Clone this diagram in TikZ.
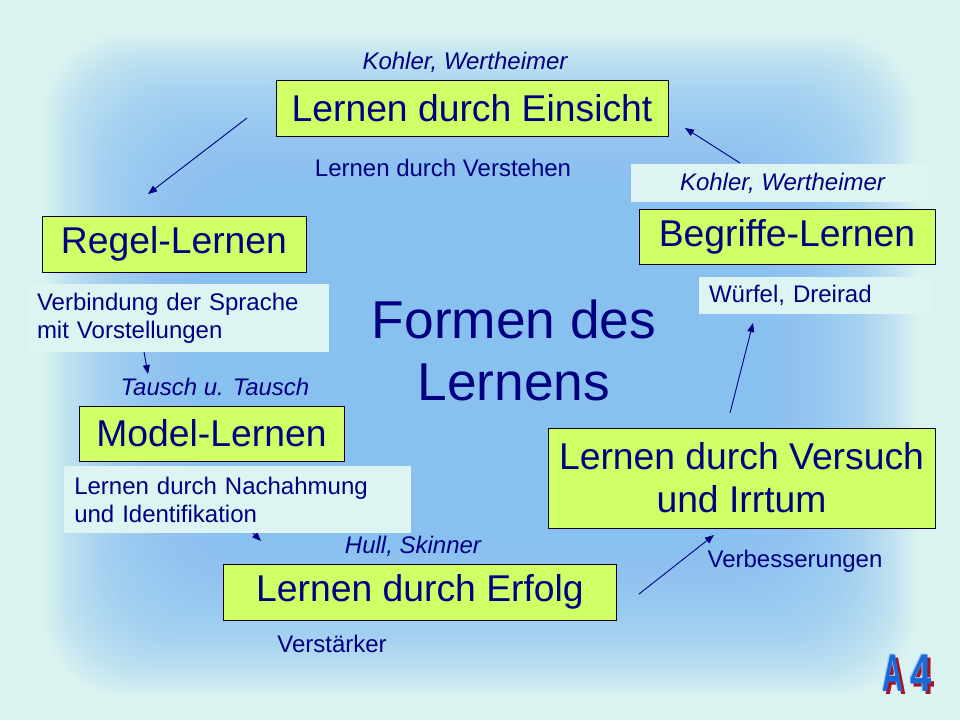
\documentclass[tikz,border=0pt]{standalone}
\usepackage{fontspec}
\setmainfont{Liberation Sans}
\usetikzlibrary{arrows.meta}
\definecolor{bgout}{RGB}{219,243,240}
\definecolor{bgin}{RGB}{136,193,250}
\definecolor{boxfill}{RGB}{208,255,102}
\definecolor{navy}{RGB}{0,0,128}
\definecolor{lblfill}{RGB}{222,244,242}
\definecolor{logoblue}{RGB}{25,105,215}
\definecolor{logolight}{RGB}{150,200,250}
\definecolor{logored}{RGB}{165,20,35}
\newcommand{\logoglyphs}{\scalebox{0.55}[1]{A}\hspace{7pt}\scalebox{0.72}[1]{4}}
\begin{document}
\begin{tikzpicture}[x=1pt,y=-1pt,
  box/.style={draw=black!85!blue, line width=0.9pt, fill=boxfill, text=navy,
    font=\fontsize{37.3}{43}\selectfont, inner sep=0pt, align=center},
  lbl/.style={fill=lblfill, text=navy, font=\fontsize{24}{28}\selectfont,
    inner ysep=0pt, align=left},
  txt/.style={text=navy, font=\fontsize{24}{28}\selectfont, inner sep=0pt},
  itxt/.style={text=navy, font=\fontsize{24}{28}\selectfont\itshape, inner sep=0pt},
  arr/.style={draw=navy, line width=0.9pt, -{Triangle[length=9pt,width=7pt]}},
  logo/.style={font=\fontsize{53}{53}\bfseries, inner sep=0pt}]
\useasboundingbox (0,0) rectangle (960,720);
% background
\fill[bgout] (0,0) rectangle (960,720);
\foreach \i in {0,...,54}{
  \fill[bgin, opacity=0.055, rounded corners=80pt]
    ({45+4*\i},{35+4*\i}) rectangle ({915-4*\i},{695-4*\i});
}
% coordinates for arrows
\coordinate (a1s) at (247,118); \coordinate (a1e) at (148,194);
\coordinate (a2s) at (740,163); \coordinate (a2e) at (685,128);
\coordinate (a3s) at (730,413); \coordinate (a3e) at (753,323);
\coordinate (a4s) at (144,352); \coordinate (a4e) at (148,374);
\coordinate (a5s) at (238,518); \coordinate (a5e) at (261,541);
\coordinate (a6s) at (639,594); \coordinate (a6e) at (714,535);
\draw[arr] (a1s) -- (a1e);
\draw[arr] (a2s) -- (a2e);
\draw[arr] (a3s) -- (a3e);
\draw[arr] (a4s) -- (a4e);
\draw[arr] (a5s) -- (a5e);
\draw[arr] (a6s) -- (a6e);
% main boxes
\node[box, minimum width=392, minimum height=56] (einsicht) at (472,108) {Lernen durch Einsicht};
\node[box, minimum width=264, minimum height=56] (regel) at (174,244) {Regel-Lernen};
\node[box, minimum width=296, minimum height=55] (begriffe) at (787,236.5) {Begriffe-Lernen};
\node[box, minimum width=265, minimum height=55] (model) at (211.5,433.5) {Model-Lernen};
\node[box, minimum width=387, minimum height=100] (versuch) at (741.5,478) {Lernen durch Versuch\\und Irrtum};
\node[box, minimum width=393, minimum height=56] (erfolg) at (420,592) {Lernen durch Erfolg};
% label boxes
\node[lbl, itxt, fill=lblfill, align=center, minimum width=303, minimum height=38] (kw2) at (782.5,183) {Kohler, Wertheimer};
\node[lbl, inner xsep=10pt, text width=212pt, minimum height=37] (wuerfel) at (815,295.5) {Würfel, Dreirad};
\node[lbl, inner xsep=9pt, text width=283pt, minimum height=68] (verb) at (178.5,318) {Verbindung der Sprache\\mit Vorstellungen};
\node[lbl, inner xsep=10pt, text width=327pt, minimum height=67] (nach) at (237.75,499.5) {Lernen durch Nachahmung\\und Identifikation};
% plain texts
\node[itxt] (kw1) at (465,62) {Kohler, Wertheimer};
\node[txt] (verstehen) at (443,168) {Lernen durch Verstehen};
\node[itxt] (tausch) at (215,387) {Tausch u. Tausch};
\node[itxt] (hull) at (413,546) {Hull, Skinner};
\node[txt] (verbess) at (795,561) {Verbesserungen};
\node[txt] (verst) at (332,644) {Verstärker};
\node[text=navy, font=\fontsize{53.3}{62}\selectfont, align=center, inner sep=0pt] (title) at (514,350) {Formen des\\Lernens};
% logo (shadow, highlight and face in one text)
\node[logo] (logo) at (907,674)
  {\rlap{\hspace{3pt}\raisebox{-3pt}{\color{logored}\logoglyphs}}%
   \rlap{\hspace{-1.2pt}\raisebox{1.2pt}{\color{logolight}\logoglyphs}}%
   {\color{logoblue}\logoglyphs}};
\end{tikzpicture}
\end{document}
